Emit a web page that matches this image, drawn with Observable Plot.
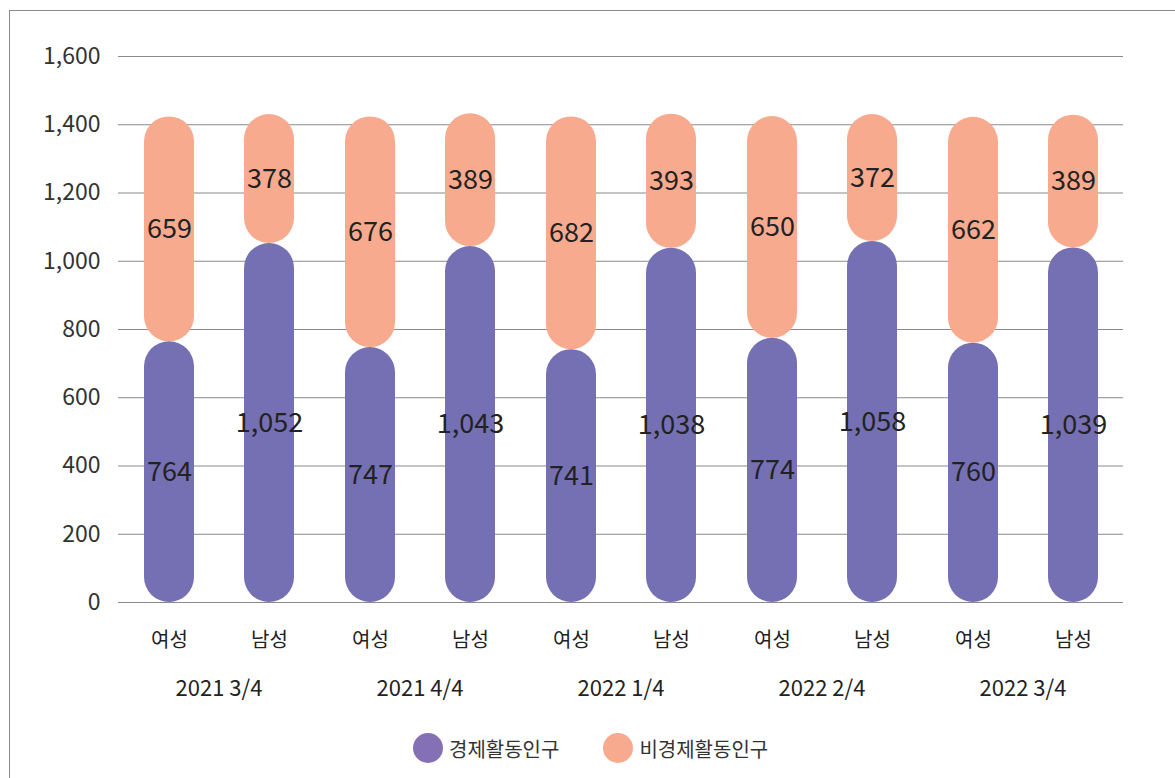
<!DOCTYPE html>
<html><head><meta charset="utf-8">
<script src="https://cdn.jsdelivr.net/npm/d3@7"></script>
<script src="https://cdn.jsdelivr.net/npm/@observablehq/plot@0.6"></script>
<style>
body{margin:0;background:#fff;font-family:"Noto Sans CJK KR","Noto Sans",sans-serif;}
#wrap{position:relative;width:1175px;height:778px;overflow:hidden;}
#frame{position:absolute;left:9px;top:10px;width:1300px;height:900px;border-left:1.5px solid #8a8a8a;border-top:1.5px solid #8a8a8a;}
#chart{position:absolute;left:0;top:0;}
#legend{position:absolute;left:413px;top:733px;display:flex;align-items:center;font-size:20px;color:#333;}
.item{display:flex;align-items:center;}
.dot{width:30px;height:30px;border-radius:50%;margin-right:6px;}
</style></head>
<body><div id="wrap"><div id="frame"></div><div id="chart"></div>
<div id="legend"></div></div>
<script>
const periods = ["2021 3/4","2021 4/4","2022 1/4","2022 2/4","2022 3/4"];
const genders = ["여성","남성"];
const econ = [764,1052,747,1043,741,1038,774,1058,760,1039];
const nonEcon = [659,378,676,389,682,393,650,372,662,389];
const seriesNames = ["경제활동인구","비경제활동인구"];
const colors = ["#7570B3","#F8AA8F"];
const legendColors = ["#8470B4","#F8AA8F"];
const yTicks = [0,200,400,600,800,1000,1200,1400,1600];

const rows = [];
periods.forEach((p,i)=>genders.forEach((g,j)=>{
  const k=i*2+j;
  rows.push({period:p,gender:g,econ:econ[k],non:nonEcon[k],total:econ[k]+nonEcon[k]});
}));

const fontFam = '"Noto Sans CJK KR","Noto Sans",sans-serif';
const plot = Plot.plot({
  width:1175, height:720,
  marginLeft:117, marginRight:51, marginTop:56, marginBottom:118,
  style:{fontFamily:fontFam, background:"transparent", overflow:"visible"},
  y:{domain:[0,1600], ticks:yTicks, label:null},
  x:{domain:genders, paddingInner:0.5, paddingOuter:0.25, label:null},
  fx:{domain:periods, padding:0, label:null},
  marks:[
    Plot.gridY(yTicks,{stroke:"#8a8a8a", strokeOpacity:1, strokeWidth:1.2}),
    Plot.axisY(yTicks,{tickSize:0, tickPadding:18, fontSize:23, fill:"#333", tickFormat:d3.format(","), label:null}),
    Plot.axisX({tickSize:0, tickPadding:30, fontSize:20, fill:"#222", label:null}),
    Plot.axisFx({anchor:"bottom", tickSize:0, tickPadding:78, fontSize:22, fill:"#222", label:null}),
    Plot.barY(rows,{fx:"period", x:"gender", y1:"econ", y2:"total", fill:colors[1], rx:25}),
    Plot.barY(rows,{fx:"period", x:"gender", y1:0, y2:"econ", fill:colors[0], rx:25}),
    Plot.text(rows,{fx:"period", x:"gender", y:d=>d.econ/2, text:d=>d3.format(",")(d.econ), fontSize:27, fill:"#222"}),
    Plot.text(rows,{fx:"period", x:"gender", y:d=>d.econ+d.non/2, text:d=>d3.format(",")(d.non), fontSize:27, fill:"#222"})
  ]
});
document.getElementById("chart").appendChild(plot);

const lg = document.getElementById("legend");
seriesNames.forEach((n,i)=>{
  const it=document.createElement("div"); it.className="item";
  if(i>0) it.style.marginLeft="44px";
  const d=document.createElement("div"); d.className="dot"; d.style.background=legendColors[i];
  const t=document.createElement("span"); t.textContent=n;
  it.appendChild(d); it.appendChild(t); lg.appendChild(it);
});
</script></body></html>
